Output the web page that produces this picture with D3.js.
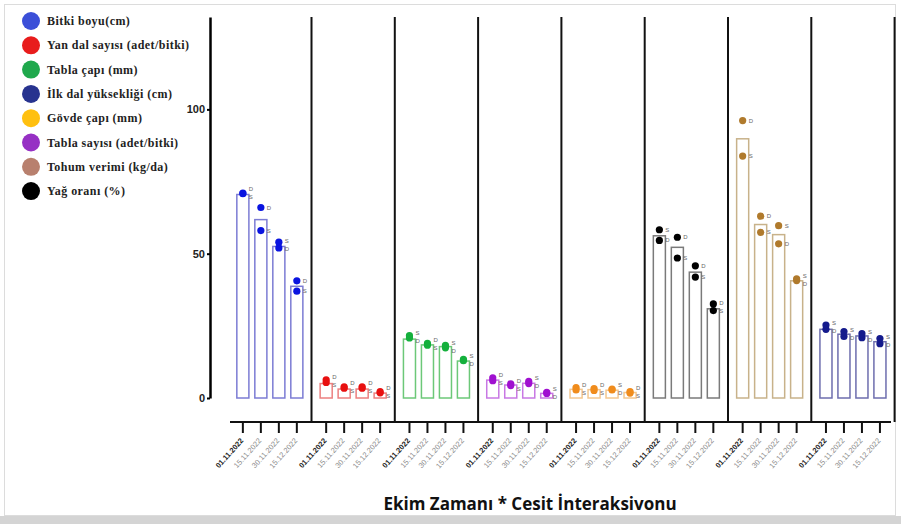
<!DOCTYPE html>
<html>
<head>
<meta charset="utf-8">
<script src="https://cdn.jsdelivr.net/npm/d3@7"></script>
<style>
  body { margin: 0; background: #fff; }
  svg { display: block; }
</style>
</head>
<body>
<div id="chart"></div>
<script>
// legend (as drawn on the left)
const legendNames = ["Bitki boyu(cm)", "Yan dal sayısı (adet/bitki)", "Tabla çapı (mm)",
    "İlk dal yüksekliği (cm)", "Gövde çapı (mm)", "Tabla sayısı (adet/bitki)",
    "Tohum verimi (kg/da)", "Yağ oranı (%)"];
const legendColors = ["#3b4fd8", "#e81c1c", "#1fa84c", "#27338f", "#ffc010", "#9630c4", "#b8806e", "#000000"];

// panels left to right (legend index of each)
const panelTraits = [0, 1, 2, 5, 4, 7, 6, 3];
const dates = ["01.11.2022", "15.11.2022", "30.11.2022", "15.12.2022"];

// bar = mean, D and S = the two varieties
const barVals = [
    [70.5, 61.8, 52.5, 38.7],
    [5.0, 3.1, 3.1, 1.7],
    [20.4, 18.4, 17.8, 12.8],
    [6.2, 4.5, 5.1, 1.6],
    [3.0, 2.9, 2.7, 1.9],
    [56.2, 52.2, 43.6, 30.9],
    [89.8, 60.1, 56.6, 40.6],
    [23.8, 22.1, 21.5, 19.5]
];
const dVals = [
    [71.0, 66.0, 52.0, 40.6],
    [6.3, 3.9, 3.9, 2.2],
    [20.8, 18.9, 17.4, 12.9],
    [7.0, 4.9, 5.0, 1.6],
    [3.6, 3.3, 2.8, 2.2],
    [54.6, 55.7, 45.8, 32.6],
    [96.1, 63.0, 53.4, 40.7],
    [23.8, 21.3, 20.9, 18.8]
];
const sVals = [
    [70.8, 58.0, 54.0, 37.0],
    [5.4, 3.4, 3.4, 1.8],
    [21.6, 18.3, 18.2, 13.4],
    [6.0, 4.3, 5.8, 2.0],
    [2.8, 2.6, 3.1, 1.7],
    [58.3, 48.5, 41.9, 30.3],
    [83.8, 57.4, 59.7, 41.3],
    [25.3, 23.0, 22.3, 20.6]
];
const dotColors = ["#0a14e0", "#e81010", "#14b03c", "#a010d0", "#f08c1c", "#000000", "#b07a2c", "#141a8c"];
const barColors = ["#7c7cd4", "#ec8080", "#6cc878", "#c878e4", "#f4c890", "#7a7a7a", "#c8b28a", "#6e6eae"];
const yTicks = [0, 50, 100];

const width = 901, height = 524;

const svg = d3.select("#chart")
    .append("svg")
    .attr("width", width)
    .attr("height", height)
    .style("font-family", "'Liberation Sans', Arial, sans-serif");

// frame of the picture
svg.append("rect")
    .attr("x", 0).attr("y", 516).attr("width", width).attr("height", 8)
    .attr("fill", "#d4d4d4");
svg.append("rect")
    .attr("x", 4.5).attr("y", 4.5).attr("width", 891).attr("height", 511)
    .attr("fill", "#fff").attr("stroke", "#dcdcdc");

const y = d3.scaleLinear([0, 132], [398, 17]);
const x0 = d3.scaleBand(d3.range(panelTraits.length), [228.2, 894.6]);
const x1 = d3.scaleBand(dates, [0, x0.bandwidth()])
    .paddingInner(0.33)
    .paddingOuter(0.48);

// y axis
const yAxis = svg.append("g")
    .attr("transform", "translate(210,0)")
    .call(d3.axisLeft(y).tickValues(yTicks).tickSize(3).tickSizeOuter(0).tickPadding(2));
yAxis.select(".domain").attr("stroke-width", 2.5);
yAxis.selectAll(".tick line").attr("stroke-width", 2);
yAxis.selectAll(".tick text")
    .attr("font-size", 11)
    .attr("font-weight", "bold")
    .attr("fill", "#222");

// panel separators
const seps = d3.range(1, panelTraits.length + 1).map(i => i < panelTraits.length ? x0(i) : x0.range()[1]);
svg.append("g")
    .selectAll("line")
    .data(seps)
    .join("line")
    .attr("x1", d => d).attr("x2", d => d)
    .attr("y1", 17).attr("y2", 422)
    .attr("stroke", "#111")
    .attr("stroke-width", 2);

// bottom axis line
svg.append("line")
    .attr("x1", 230).attr("x2", 891)
    .attr("y1", 422).attr("y2", 422)
    .attr("stroke", "#111")
    .attr("stroke-width", 2);

const panels = svg.selectAll(".panel")
    .data(panelTraits)
    .join("g")
    .attr("class", "panel")
    .attr("transform", (d, i) => `translate(${x0(i)},0)`);

// x axis per panel
panels.each(function (t, i) {
    const g = d3.select(this).append("g")
        .attr("transform", "translate(0,422)")
        .call(d3.axisBottom(x1).tickSize(11).tickSizeOuter(0));
    g.select(".domain").remove();
    g.selectAll(".tick line").attr("stroke", "#111").attr("stroke-width", 2);
    g.selectAll(".tick text")
        .attr("y", 0).attr("dy", 0)
        .attr("text-anchor", "end")
        .attr("transform", "translate(1,19) rotate(-48)")
        .attr("font-size", 7.5)
        .attr("font-weight", (d, j) => j === 0 ? "bold" : "normal")
        .attr("fill", (d, j) => j === 0 ? "#222" : "#8a8a8a");
});

// bars
panels.selectAll("rect.bar")
    .data((t, i) => barVals[i].map((v, j) => ({ v, date: dates[j], p: i })))
    .join("rect")
    .attr("class", "bar")
    .attr("x", d => x1(d.date))
    .attr("y", d => y(d.v))
    .attr("width", x1.bandwidth())
    .attr("height", d => y(0) - y(d.v))
    .attr("fill", "none")
    .attr("stroke", d => barColors[d.p])
    .attr("stroke-width", 1.5);

// dots and their D / S labels
panels.each(function (t, i) {
    const g = d3.select(this);
    dates.forEach((date, j) => {
        const cx = x1(date) + x1.bandwidth() / 2;
        const yd = y(dVals[i][j]), ys = y(sVals[i][j]);
        let ld = yd, ls = ys;
        if (Math.abs(yd - ys) < 8) {
            const mid = (yd + ys) / 2;
            ld = yd <= ys ? mid - 4 : mid + 4;
            ls = yd <= ys ? mid + 4 : mid - 4;
        }
        [[yd, ld, "D"], [ys, ls, "S"]].forEach(([cy, ly, lab]) => {
            g.append("circle")
                .attr("cx", cx).attr("cy", cy).attr("r", 3.6)
                .attr("fill", dotColors[i]);
            g.append("text")
                .attr("x", cx + 6).attr("y", ly + 2)
                .attr("font-size", 6)
                .attr("fill", "#666")
                .text(lab);
        });
    });
});

// legend
const legend = svg.selectAll(".legend-item")
    .data(legendNames)
    .join("g")
    .attr("class", "legend-item")
    .attr("transform", (d, i) => `translate(0,${21 + i * 24.3})`);
legend.append("circle")
    .attr("cx", 31).attr("cy", 0).attr("r", 9)
    .attr("fill", (d, i) => legendColors[i]);
legend.append("text")
    .attr("x", 47).attr("y", 4)
    .attr("font-family", "'Liberation Serif', 'DejaVu Serif', serif")
    .attr("font-weight", "bold")
    .attr("font-size", 12)
    .attr("letter-spacing", 0.45)
    .attr("fill", "#222")
    .text(d => d);

// title
svg.append("text")
    .attr("x", 530).attr("y", 510)
    .attr("text-anchor", "middle")
    .attr("font-family", "'Open Sans', 'DejaVu Sans', sans-serif")
    .attr("font-weight", "bold")
    .attr("font-size", 17)
    .attr("fill", "#111")
    .text("Ekim Zamanı * Cesit İnteraksivonu");
</script>
</body>
</html>
